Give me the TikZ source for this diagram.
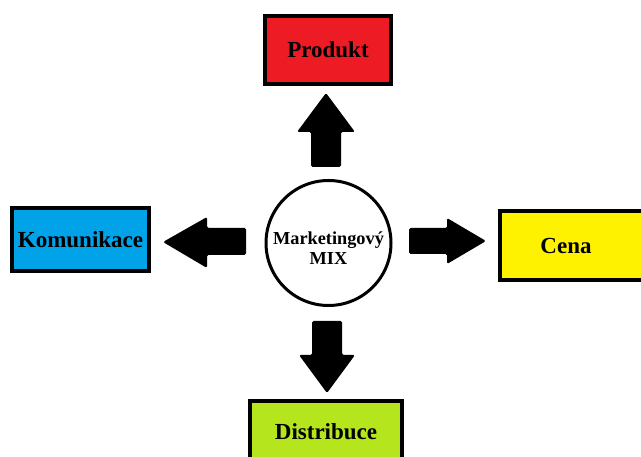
\documentclass[tikz,border=0pt]{standalone}
\usepackage{fontspec}
\setmainfont{Liberation Serif}
\definecolor{pred}{HTML}{ED1C24}
\definecolor{pblue}{HTML}{00A2E8}
\definecolor{pyellow}{HTML}{FFF200}
\definecolor{pgreen}{HTML}{B5E61D}
\begin{document}
\begin{tikzpicture}[x=1pt,y=-1pt,
  box/.style={draw, line width=4pt, inner sep=0pt, font=\fontsize{23}{27}\selectfont\bfseries},
  arr/.style={fill=black, rounded corners=1.5pt}]
\clip (0,0) rectangle (641,457);

\node[circle, draw, line width=3pt, minimum size=125pt,
  label={[align=center, yshift=-5pt, font=\fontsize{18.3}{19.5}\selectfont\bfseries]center:Marketingový\\MIX}](M) at (328.5,243){};

\node[box, fill=pred, minimum width=126pt, minimum height=68pt](P) at (328,50){Produkt};
\node[box, fill=pblue, minimum width=137pt, minimum height=63pt](K) at (80.5,239.5){Komunikace};
\node[box, fill=pyellow, minimum width=148pt, minimum height=69pt](C) at (574,245.5){Cena\hspace*{16pt}};
\node[box, fill=pgreen, minimum width=152pt, minimum height=62pt](D) at (326,432){Distribuce};

% block arrows
\fill[arr] (311,167) -- (311,132) -- (297,132) -- (326,93) -- (355,132) -- (341,132) -- (341,167) -- cycle;
\fill[arr] (246,228) -- (207,228) -- (207,217) -- (163,242) -- (207,268) -- (207,255) -- (246,255) -- cycle;
\fill[arr] (409,228) -- (447,228) -- (447,218) -- (486,241) -- (447,264) -- (447,254) -- (409,254) -- cycle;
\fill[arr] (312,321) -- (312,355) -- (299,355) -- (327,393) -- (355,355) -- (342,355) -- (342,321) -- cycle;
\end{tikzpicture}
\end{document}
